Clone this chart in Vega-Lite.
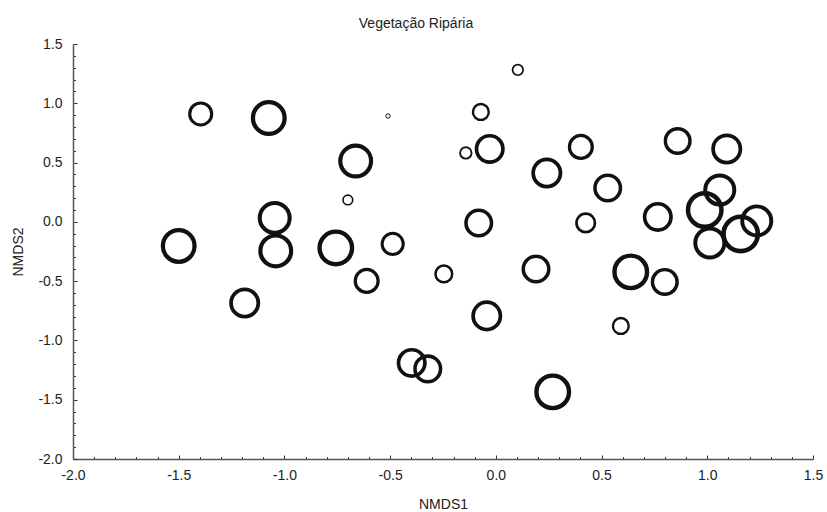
{
  "$schema": "https://vega.github.io/schema/vega-lite/v6.json",
  "autosize": "none",
  "width": 740,
  "height": 415,
  "padding": {"left": 73, "top": 44, "right": 14, "bottom": 53},
  "background": "white",
  "config": {
    "view": {"stroke": null},
    "font": "Liberation Sans",
    "axis": {
      "grid": false,
      "domainColor": "#555555",
      "domainWidth": 1.5,
      "tickColor": "#333333",
      "tickWidth": 1,
      "labelFont": "Liberation Sans",
      "labelFontSize": 14,
      "labelColor": "#222222",
      "titleFont": "Liberation Sans",
      "titleFontSize": 14,
      "titleFontWeight": "normal",
      "titleColor": "#222222"
    }
  },
  "title": {
    "text": "Vegetação Ripária",
    "font": "Liberation Sans",
    "fontSize": 14,
    "fontWeight": "normal",
    "color": "#222222",
    "anchor": "middle",
    "dx": -27,
    "offset": 6
  },
  "data": {
    "values": [
      {"nmds1": -1.396, "nmds2": 0.910, "valor": 25},
      {"nmds1": -1.074, "nmds2": 0.876, "valor": 36},
      {"nmds1": -0.510, "nmds2": 0.893, "valor": 5},
      {"nmds1": 0.104, "nmds2": 1.281, "valor": 12},
      {"nmds1": -0.071, "nmds2": 0.927, "valor": 18},
      {"nmds1": -0.663, "nmds2": 0.513, "valor": 35},
      {"nmds1": -0.142, "nmds2": 0.581, "valor": 13},
      {"nmds1": -0.029, "nmds2": 0.615, "valor": 30},
      {"nmds1": 0.402, "nmds2": 0.632, "valor": 26},
      {"nmds1": 0.860, "nmds2": 0.682, "valor": 28},
      {"nmds1": 1.092, "nmds2": 0.615, "valor": 31},
      {"nmds1": 0.241, "nmds2": 0.412, "valor": 31},
      {"nmds1": 0.529, "nmds2": 0.286, "valor": 29},
      {"nmds1": 1.059, "nmds2": 0.269, "valor": 33},
      {"nmds1": -0.700, "nmds2": 0.185, "valor": 11},
      {"nmds1": -1.046, "nmds2": 0.033, "valor": 34},
      {"nmds1": -1.500, "nmds2": -0.203, "valor": 36},
      {"nmds1": -1.041, "nmds2": -0.245, "valor": 35},
      {"nmds1": -0.757, "nmds2": -0.220, "valor": 37},
      {"nmds1": -0.488, "nmds2": -0.186, "valor": 24},
      {"nmds1": -0.611, "nmds2": -0.498, "valor": 26},
      {"nmds1": -0.246, "nmds2": -0.439, "valor": 19},
      {"nmds1": -0.081, "nmds2": -0.009, "valor": 29},
      {"nmds1": 0.190, "nmds2": -0.397, "valor": 29},
      {"nmds1": 0.988, "nmds2": 0.100, "valor": 38},
      {"nmds1": 1.234, "nmds2": 0.008, "valor": 33},
      {"nmds1": 1.158, "nmds2": -0.102, "valor": 39},
      {"nmds1": 1.012, "nmds2": -0.178, "valor": 33},
      {"nmds1": 0.766, "nmds2": 0.041, "valor": 30},
      {"nmds1": 0.425, "nmds2": -0.009, "valor": 21},
      {"nmds1": 0.638, "nmds2": -0.422, "valor": 37},
      {"nmds1": 0.799, "nmds2": -0.507, "valor": 28},
      {"nmds1": -0.043, "nmds2": -0.793, "valor": 31},
      {"nmds1": 0.591, "nmds2": -0.878, "valor": 18},
      {"nmds1": 0.269, "nmds2": -1.434, "valor": 37},
      {"nmds1": -1.188, "nmds2": -0.684, "valor": 31},
      {"nmds1": -0.398, "nmds2": -1.190, "valor": 30},
      {"nmds1": -0.322, "nmds2": -1.240, "valor": 29}
    ]
  },
  "mark": {"type": "point", "shape": "circle", "filled": false, "color": "#111111", "opacity": 1},
  "encoding": {
    "x": {
      "field": "nmds1",
      "type": "quantitative",
      "scale": {"domain": [-2, 1.5], "nice": false, "zero": false},
      "axis": {
        "title": "NMDS1",
        "values": [-2,-1.9,-1.8,-1.7,-1.6,-1.5,-1.4,-1.3,-1.2,-1.1,-1,-0.9,-0.8,-0.7,-0.6,-0.5,-0.4,-0.3,-0.2,-0.1,0,0.1,0.2,0.3,0.4,0.5,0.6,0.7,0.8,0.9,1,1.1,1.2,1.3,1.4,1.5],
        "labelExpr": "abs(datum.value*2 - round(datum.value*2)) < 0.001 ? (datum.value < -0.0001 ? '-' : '') + format(abs(datum.value), '.1f') : ''",
        "tickSize": {"condition": {"test": "abs(datum.value*2 - round(datum.value*2)) < 0.001", "value": -4}, "value": -2.5},
        "labelPadding": 13,
        "labelFlush": false,
        "labelOverlap": false,
        "titlePadding": 14
      }
    },
    "y": {
      "field": "nmds2",
      "type": "quantitative",
      "scale": {"domain": [-2, 1.5], "nice": false, "zero": false},
      "axis": {
        "title": "NMDS2",
        "values": [-2,-1.9,-1.8,-1.7,-1.6,-1.5,-1.4,-1.3,-1.2,-1.1,-1,-0.9,-0.8,-0.7,-0.6,-0.5,-0.4,-0.3,-0.2,-0.1,0,0.1,0.2,0.3,0.4,0.5,0.6,0.7,0.8,0.9,1,1.1,1.2,1.3,1.4,1.5],
        "labelExpr": "abs(datum.value*2 - round(datum.value*2)) < 0.001 ? (datum.value < -0.0001 ? '-' : '') + format(abs(datum.value), '.1f') : ''",
        "tickSize": {"condition": {"test": "abs(datum.value*2 - round(datum.value*2)) < 0.001", "value": -4}, "value": -2.5},
        "labelPadding": 15,
        "labelFlush": false,
        "labelOverlap": false,
        "titlePadding": 12
      }
    },
    "size": {
      "field": "valor",
      "type": "quantitative",
      "scale": {"type": "pow", "exponent": 2, "domain": [0, 40], "range": [0, 1239], "zero": true},
      "legend": null
    },
    "strokeWidth": {
      "field": "valor",
      "type": "quantitative",
      "scale": {"domain": [5, 40], "range": [1, 4.7], "zero": false},
      "legend": null
    }
  }
}
